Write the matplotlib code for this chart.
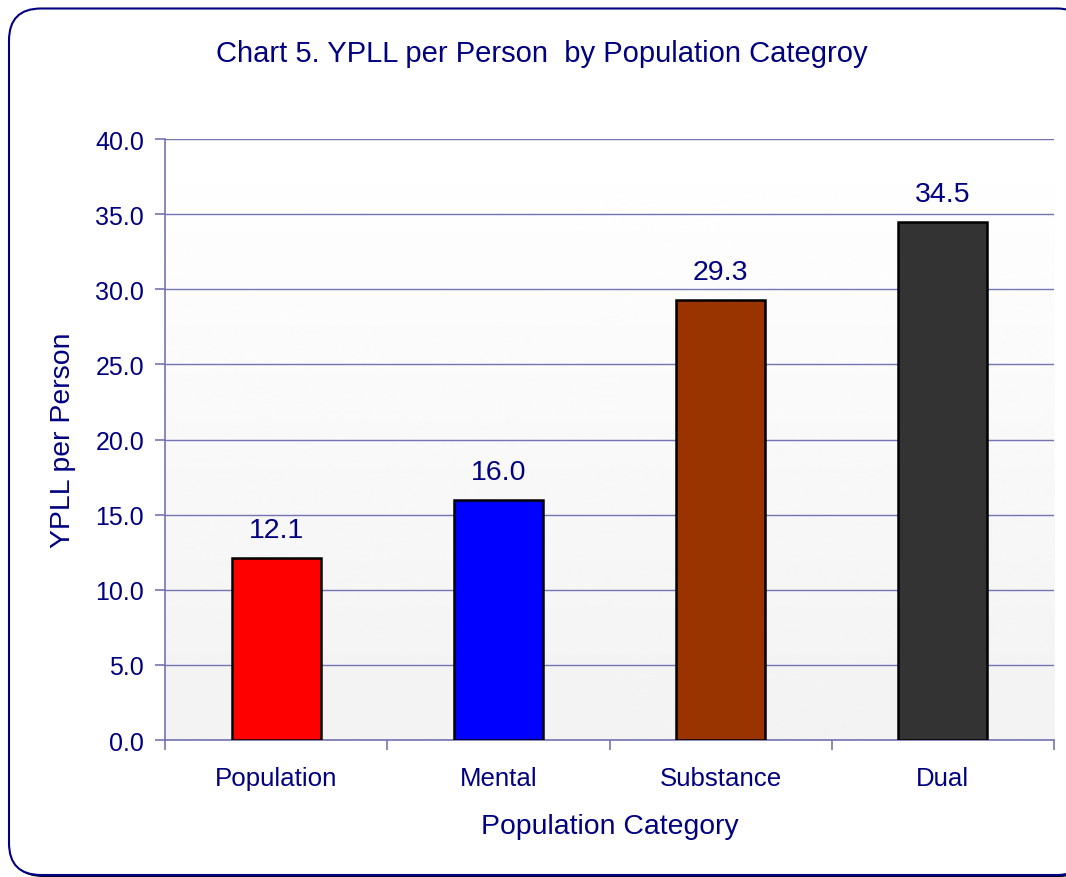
import numpy as np
import matplotlib.pyplot as plt
from matplotlib.patches import FancyBboxPatch

categories = ["Population", "Mental", "Substance", "Dual"]
values = [12.1, 16.0, 29.3, 34.5]
bar_colors = ["#FF0000", "#0000FF", "#993300", "#333333"]
yticks = [0, 5, 10, 15, 20, 25, 30, 35, 40]

navy = "#000080"
gridc = "#7474B4"

plt.rcParams['font.family'] = ['Liberation Sans', 'DejaVu Sans']

fig = plt.figure(figsize=(10.66, 8.78), dpi=100)

# rounded border (runs off the right edge like the original), thin dark shadow at bottom
shadow = FancyBboxPatch((0.11, 0.0), 10.8, 8.66, boxstyle="round,pad=0,rounding_size=0.32",
                        transform=fig.dpi_scale_trans, facecolor="#000030", edgecolor="none", zorder=0)
border = FancyBboxPatch((0.09, 0.02), 10.8, 8.665, boxstyle="round,pad=0,rounding_size=0.32",
                        transform=fig.dpi_scale_trans, facecolor="white", edgecolor=navy, linewidth=1.5, zorder=1)
fig.patches.extend([shadow, border])

ax = fig.add_axes([0.1548, 0.156, 0.834, 0.6845])
ax.set_zorder(2)
ax.patch.set_alpha(0)

# gradient background, white at top to light grey at bottom
grad = np.linspace(0.95, 1.0, 256).reshape(-1, 1)
ax.imshow(grad, extent=[-0.5, 3.5, 0, 40], origin="lower", aspect="auto",
          cmap="gray", vmin=0, vmax=1, zorder=0)

x = np.arange(len(categories))
bars = ax.bar(x, values, width=0.4, color=bar_colors, edgecolor="black", linewidth=1.8, zorder=3)
for xi, v in zip(x, values):
    ax.text(xi, v + 1.0, f"{v:.1f}", ha="center", va="bottom", fontsize=20.5, color=navy)

ax.set_xlim(-0.5, 3.5)
ax.set_ylim(0, 40)
ax.set_yticks(yticks)
ax.set_yticklabels([f"{t:.1f}" for t in yticks])
ax.yaxis.grid(True, color=gridc, linewidth=1.0, zorder=1)
ax.set_axisbelow(True)

ax.set_xticks(np.arange(-0.5, 4.0, 1.0))
ax.set_xticklabels([])
ax.set_xticks(x, minor=True)
ax.set_xticklabels(categories, minor=True)
ax.tick_params(axis="x", which="minor", length=0, pad=19, labelsize=18.6, labelcolor=navy)
ax.tick_params(axis="x", which="major", length=7, color=gridc, width=1.2, direction="out")
ax.tick_params(axis="y", length=7, color=gridc, width=1.2, labelsize=18, labelcolor=navy, pad=8)

for s in ["top", "right"]:
    ax.spines[s].set_visible(False)
for s in ["left", "bottom"]:
    ax.spines[s].set_color(gridc)
    ax.spines[s].set_linewidth(1.2)

ax.set_xlabel("Population Category", fontsize=20.4, color=navy, labelpad=16)
ax.set_ylabel("YPLL per Person", fontsize=20.4, color=navy, labelpad=14)

fig.text(0.508, 0.938, "Chart 5. YPLL per Person  by Population Categroy", ha="center", va="center",
         fontsize=21, color=navy)

fig.savefig("out.png", dpi=100)
